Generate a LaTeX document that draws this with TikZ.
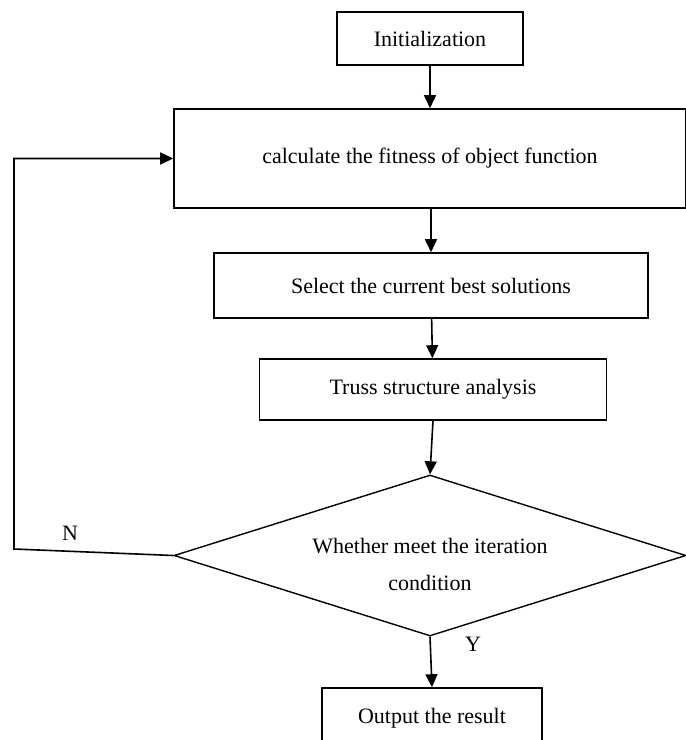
\documentclass[tikz,border=0pt]{standalone}
\usepackage{fontspec}
\setmainfont{Liberation Serif}
\usetikzlibrary{shapes.geometric, arrows.meta, positioning}

\begin{document}
\begin{tikzpicture}[x=1pt, y=-1pt, font=\fontsize{22}{37}\selectfont]
            \tikzstyle{block} = [rectangle, draw=black, line width=1.6pt, inner sep=0pt, align=center]
            \tikzstyle{decision} = [diamond, draw=black, line width=1.4pt, aspect=3.2, inner sep=0pt, align=center, minimum width=512pt, minimum height=161pt]
            \tikzstyle{arrow} = [line width=1.6pt, -{Triangle[length=13pt, width=12pt]}, black]

            \useasboundingbox (0,0) rectangle (686,740);
            \clip (0,0) rectangle (686,740);

            \node[block, minimum width=186pt, minimum height=53pt] (init) at (430,38.5) {Initialization};
            \node[block, minimum width=512pt, minimum height=99pt] (calc) at (430,158.5) {calculate the fitness of object function};
            \node[block, minimum width=434pt, minimum height=65pt] (select) at (431,285.5) {Select the current best solutions};
            \node[block, minimum width=347pt, minimum height=61pt] (truss) at (433,389.5) {Truss structure analysis};
            \node[decision] (cond) at (430,555.5) {\raisebox{-14.5pt}[0pt][0pt]{\begin{tabular}{@{}c@{}}Whether meet the iteration\\condition\end{tabular}}};
            \node[block, minimum width=220pt, minimum height=60pt] (out) at (432,718) {Output the result};

            \node (no) at (70,533) {N};
            \node (yes) at (473,644) {Y};
            \coordinate (back) at (14,549);

            \draw[arrow] (init) -- (calc);
            \draw[arrow] (calc.south -| select.north) -- (select.north);
            \draw[arrow] (select) -- (truss);
            \draw[arrow] (truss.south) -- (cond.north);
            \draw[arrow] (cond.south) -- (out.north);
            \draw[arrow] (cond.west) -- (back) |- (calc.west);
        \end{tikzpicture}
\end{document}
